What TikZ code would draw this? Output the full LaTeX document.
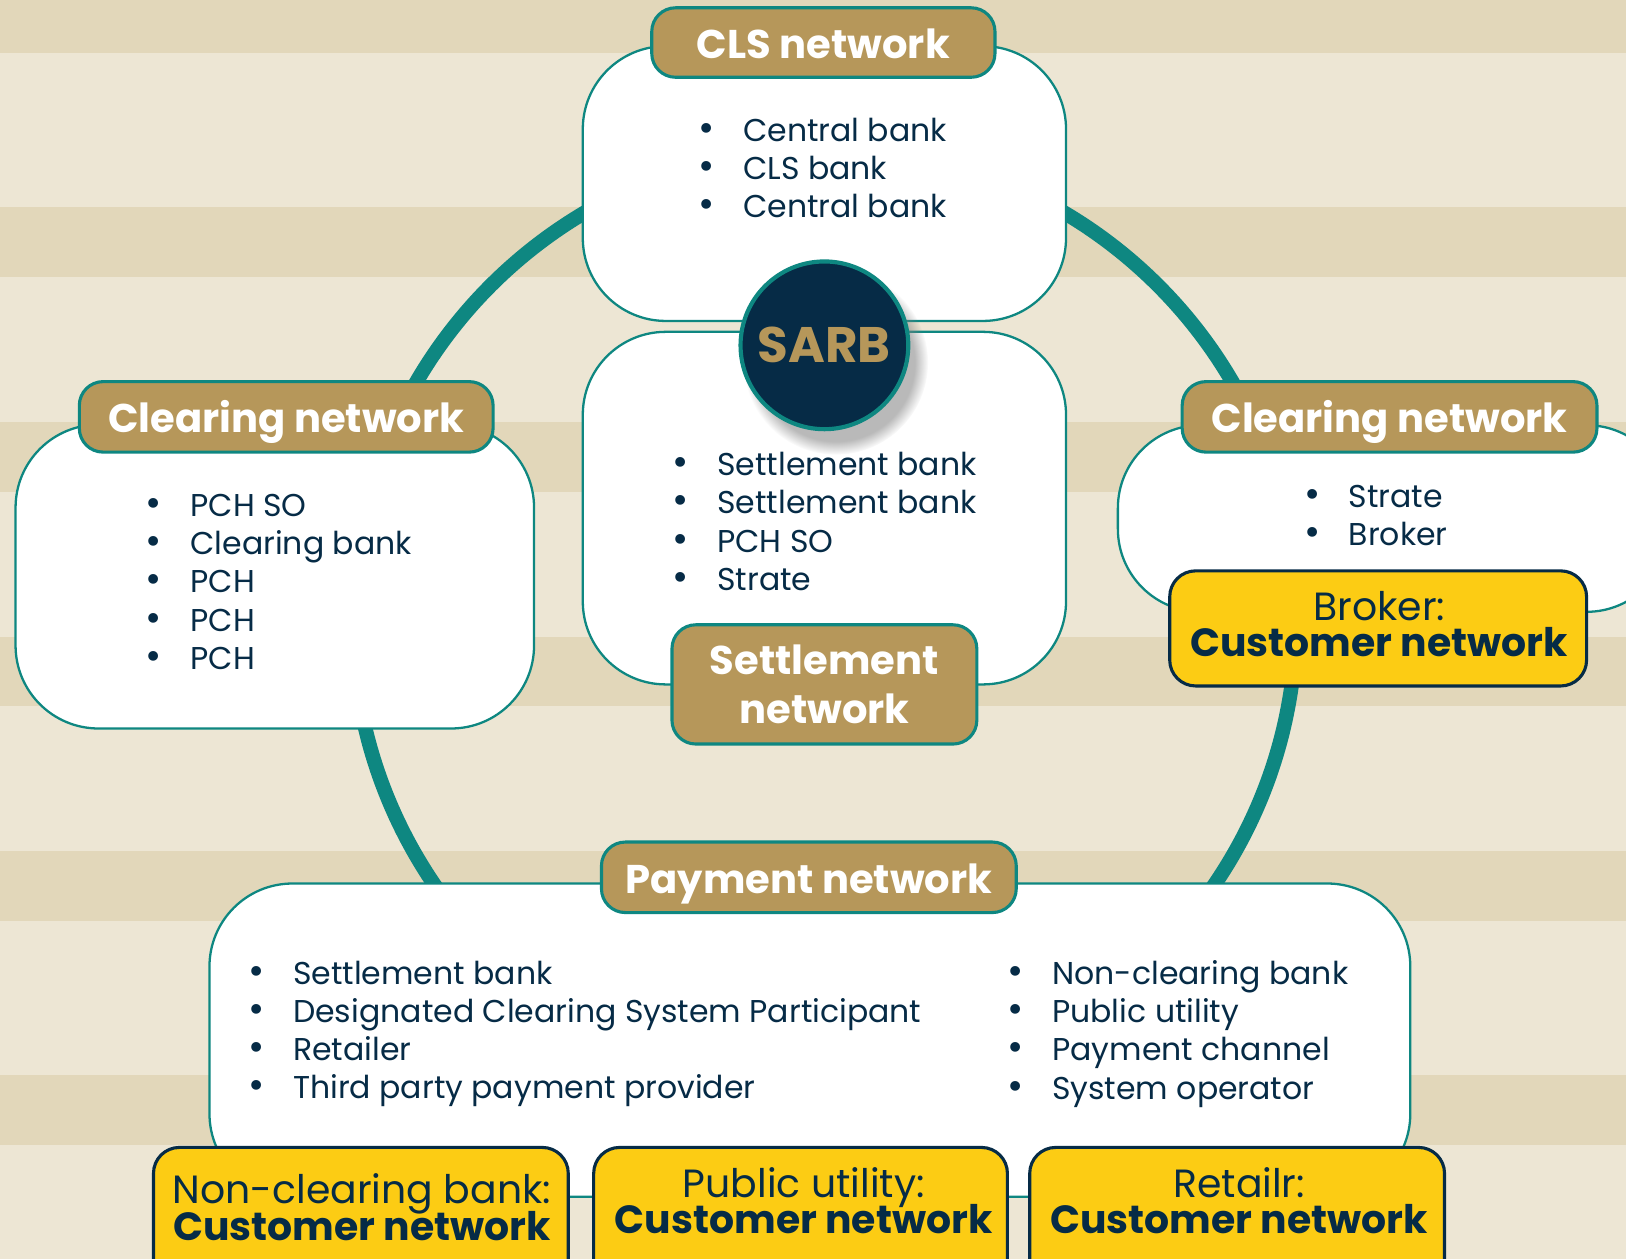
\documentclass[tikz,border=0pt]{standalone}
\usepackage{fontspec}
\setmainfont{Poppins}
\usetikzlibrary{shadows,fadings}

\definecolor{sblight}{HTML}{EDE6D4}
\definecolor{sbdark}{HTML}{E2D7BA}
\definecolor{sbteal}{HTML}{0E8781}
\definecolor{sbgold}{HTML}{B6975A}
\definecolor{sbnavy}{HTML}{062B46}
\definecolor{sbyellow}{HTML}{FCCC14}

\newcommand{\bul}{\makebox[4.3mm][l]{\scalebox{1.25}{\textbullet}}}
\newcommand{\tightlines}{\setlength{\lineskiplimit}{-10pt}}

\begin{document}
\begin{tikzpicture}[x=0.1mm,y=-0.1mm,
    bubble/.style={draw=sbteal, line width=0.22mm, fill=white, rounded corners=8mm},
    tag/.style={draw=sbteal, line width=0.3mm, fill=sbgold, rounded corners=2.3mm, text=white, align=center, font=\fontsize{11}{13.6}\selectfont\bfseries},
    tagline/.style={tag, text height=3.1mm, text depth=0mm},
    custbox/.style={draw=sbnavy, line width=0.3mm, fill=sbyellow, rounded corners=2.5mm},
    custtext/.style={text=sbnavy, align=center, font=\fontsize{10.8}{10}\selectfont\tightlines},
    items/.style={anchor=west, align=left, text=sbnavy, inner sep=0pt, font=\fontsize{8.65}{10.5}\selectfont}]

		\useasboundingbox (0,0) rectangle (1568,1214);
		\clip (0,0) rectangle (1568,1214);

		% striped background
		\fill[sblight] (0,0) rectangle (1568,1214);
		\foreach \y in {-16,200,407,614,821,1037}
			\fill[sbdark] (0,\y) rectangle (1568,\y+67);

		\draw[sbteal, line width=1.4mm] (795,597) circle [radius=455];

		% white boxes
		\node[bubble, minimum width=46.6mm, minimum height=26.5mm] (clsbox) at (795,177) {};
		\node[bubble, minimum width=46.6mm, minimum height=34mm] (setbox) at (795,490) {};
		\node[bubble, minimum width=50mm, minimum height=29.3mm] (lclbox) at (265,556) {};
		\node[bubble, minimum width=53.2mm, minimum height=18mm] (rclbox) at (1344,500) {};
		\node[bubble, minimum width=115.8mm, minimum height=30.2mm] (paybox) at (781,1003) {};

		\node[items] (clslist) at (673,162) {\bul Central bank\\ \bul CLS bank\\ \bul Central bank};
		\node[items] (setlist) at (648,503) {\bul Settlement bank\\ \bul Settlement bank\\ \bul PCH SO\\ \bul Strate};
		\node[items] (lcllist) at (140,561) {\bul PCH SO\\ \bul Clearing bank\\ \bul PCH\\ \bul PCH\\ \bul PCH};
		\node[items] (rcllist) at (1257,497) {\bul Strate\\ \bul Broker};
		\node[items] (paylistl) at (239,997) {\bul Settlement bank\\ \bul Designated Clearing System Participant\\ \bul Retailer\\ \bul Third party payment provider};
		\node[items] (paylistr) at (971,997) {\bul Non-clearing bank\\ \bul Public utility\\ \bul Payment channel\\ \bul System operator};

		% gold labels
		\node[tagline, minimum width=33.1mm, minimum height=6.7mm] (clstag) at (794,41) {CLS network};
		\node[tagline, minimum width=39.9mm, minimum height=6.8mm] (lcltag) at (276,402) {Clearing network};
		\node[tagline, minimum width=40mm, minimum height=6.8mm] (rcltag) at (1340,402) {Clearing network};
		\node[tag, minimum width=29.4mm, minimum height=11.5mm] (settag) at (795,660) {Settlement\\network};
		\node[tagline, minimum width=40mm, minimum height=6.8mm] (paytag) at (780,846) {Payment network};

		% customer networks
		\node[custbox, minimum width=40.2mm, minimum height=11.1mm] (brokbox) at (1329,606) {};
		\node[custbox, minimum width=40mm, minimum height=14.3mm] (ncbbox) at (348,1178) {};
		\node[custbox, minimum width=39.9mm, minimum height=14.3mm] (pubbox) at (772,1178) {};
		\node[custbox, minimum width=40mm, minimum height=14.3mm] (retbox) at (1193,1178) {};
		\node[custtext] (broktext) at (1330,602) {Broker:\\\textbf{Customer network}};
		\node[custtext] (ncbtext) at (349,1164) {Non-clearing bank:\\\textbf{Customer network}};
		\node[custtext] (pubtext) at (775,1158) {Public utility:\\\textbf{Customer network}};
		\node[custtext] (rettext) at (1195,1158) {Retailr:\\\textbf{Customer network}};

		\node[circle, minimum size=16mm, fill=sbnavy, draw=sbteal, line width=0.4mm,
			circular drop shadow={shadow xshift=1mm, shadow yshift=-1.5mm, opacity=0.55},
			text=sbgold, font=\fontsize{13.7}{16}\selectfont\bfseries] (sarb) at (795,333) {SARB};
	\end{tikzpicture}
\end{document}
